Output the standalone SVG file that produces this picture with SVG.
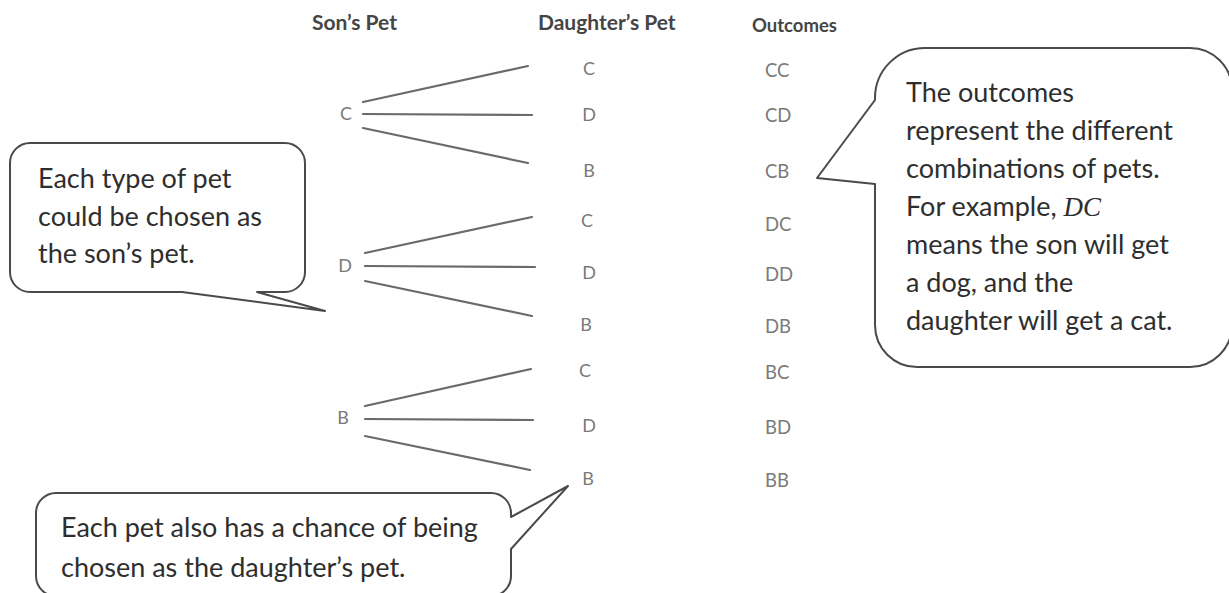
<svg xmlns="http://www.w3.org/2000/svg" width="1229" height="593" viewBox="0 0 1229 593">
<style>
.hdr{font-family:Lato,"Liberation Sans",sans-serif;font-weight:bold;font-size:21px;fill:#454545}
.lbl{font-family:Lato,"Liberation Sans",sans-serif;font-size:18px;fill:#7a7a7a;text-anchor:middle}
.out{font-family:Lato,"Liberation Sans",sans-serif;font-size:18.5px;fill:#7a7a7a}
.note{font-family:Lato,"Liberation Sans",sans-serif;font-size:27px;fill:#2e2e2e}
.bubble{fill:#fff;stroke:#4a4a4a;stroke-width:2;stroke-linejoin:round}
.edge{stroke:#6a6a6a;stroke-width:2.2;stroke-linecap:round;fill:none}
</style>
<rect width="1229" height="593" fill="#fff"/>
<g id="headers">
<text class="hdr" x="312" y="30">Son’s Pet</text>
<text class="hdr" x="538" y="30">Daughter’s Pet</text>
<text class="hdr" x="752" y="32" style="font-size:18.5px">Outcomes</text>
</g>
<g id="connectors">
<line class="edge" x1="363" y1="102" x2="528" y2="66"/>
<line class="edge" x1="363" y1="114" x2="532" y2="115"/>
<line class="edge" x1="363" y1="128" x2="528" y2="163"/>
<line class="edge" x1="365" y1="253" x2="532" y2="217"/>
<line class="edge" x1="365" y1="266" x2="535" y2="267"/>
<line class="edge" x1="365" y1="281" x2="532" y2="316"/>
<line class="edge" x1="365" y1="406" x2="531" y2="369"/>
<line class="edge" x1="365" y1="419" x2="533" y2="420"/>
<line class="edge" x1="365" y1="436" x2="530" y2="470"/>
</g>
<g id="son-C"><text class="lbl" x="346" y="120">C</text></g>
<g id="son-D"><text class="lbl" x="345" y="272">D</text></g>
<g id="son-B"><text class="lbl" x="343" y="424">B</text></g>
<g id="dau-CC"><text class="lbl" x="589" y="75">C</text></g>
<g id="dau-CD"><text class="lbl" x="589" y="121">D</text></g>
<g id="dau-CB"><text class="lbl" x="589" y="177">B</text></g>
<g id="dau-DC"><text class="lbl" x="587" y="227">C</text></g>
<g id="dau-DD"><text class="lbl" x="589" y="279">D</text></g>
<g id="dau-DB"><text class="lbl" x="586" y="331">B</text></g>
<g id="dau-BC"><text class="lbl" x="585" y="377">C</text></g>
<g id="dau-BD"><text class="lbl" x="589" y="432">D</text></g>
<g id="dau-BB"><text class="lbl" x="588" y="485">B</text></g>
<g id="outcomes">
<text class="out" x="765" y="77">CC</text>
<text class="out" x="765" y="122">CD</text>
<text class="out" x="765" y="178">CB</text>
<text class="out" x="765" y="231">DC</text>
<text class="out" x="765" y="281">DD</text>
<text class="out" x="765" y="333">DB</text>
<text class="out" x="765" y="379">BC</text>
<text class="out" x="765" y="434">BD</text>
<text class="out" x="765" y="487">BB</text>
</g>
<g id="callout-son">
<path class="bubble" d="M30,143 H285 A20,20 0 0 1 305,163 V272 A20,20 0 0 1 285,292 H257 L325,311 L182,292 H30 A20,20 0 0 1 10,272 V163 A20,20 0 0 1 30,143 Z"/>
<text class="note" x="38" y="188">Each type of pet</text>
<text class="note" x="38" y="226">could be chosen as</text>
<text class="note" x="38" y="263">the son’s pet.</text>
</g>
<g id="callout-outcomes">
<path class="bubble" d="M925,48 H1190 A42,42 0 0 1 1232,90 V325 A42,42 0 0 1 1190,367 H917 A42,42 0 0 1 875,325 V184 L817,178 L875,100 V98 A50,50 0 0 1 925,48 Z"/>
<text class="note" x="906" y="102">The outcomes</text>
<text class="note" x="906" y="140">represent the different</text>
<text class="note" x="906" y="178">combinations of pets.</text>
<text class="note" x="906" y="216">For example, <tspan font-family="'Liberation Serif',serif" font-style="italic">DC</tspan></text>
<text class="note" x="906" y="254">means the son will get</text>
<text class="note" x="906" y="292">a dog, and the</text>
<text class="note" x="906" y="330">daughter will get a cat.</text>
</g>
<g id="callout-daughter">
<path class="bubble" d="M56,493 H491 A20,20 0 0 1 511,513 V517 L568,486 L511,549 V576 A20,20 0 0 1 491,596 H56 A20,20 0 0 1 36,576 V513 A20,20 0 0 1 56,493 Z"/>
<text class="note" x="61" y="537">Each pet also has a chance of being</text>
<text class="note" x="61" y="577">chosen as the daughter’s pet.</text>
</g>
</svg>
